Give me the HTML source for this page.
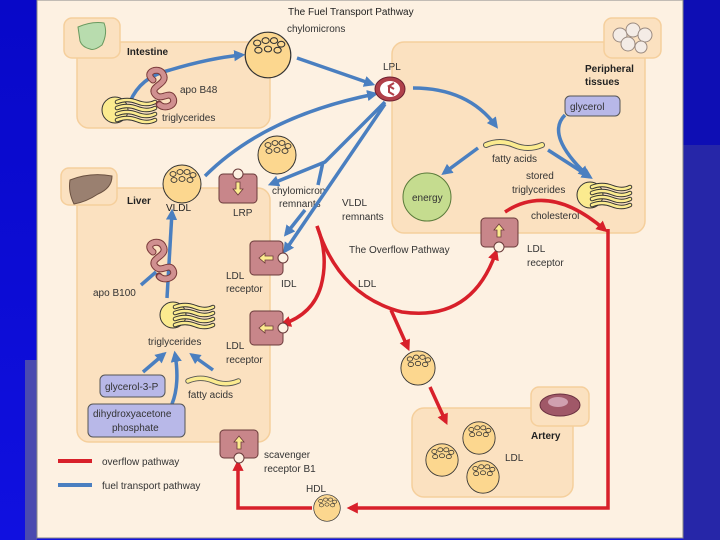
<!DOCTYPE html>
<html><head><meta charset="utf-8"><style>
html,body{margin:0;padding:0;width:720px;height:540px;overflow:hidden;background:#0a0ad0}
svg{display:block}
text{font-family:"Liberation Sans",sans-serif;font-size:10px;fill:#333}
.b{font-weight:bold;fill:#222}
</style></head><body>
<svg width="720" height="540" viewBox="0 0 720 540" xmlns="http://www.w3.org/2000/svg">
<defs>
<linearGradient id="lb" x1="0" y1="0" x2="0" y2="1"><stop offset="0" stop-color="#0808c8"/><stop offset="1" stop-color="#1010e0"/></linearGradient>
<marker id="ab" viewBox="0 0 10 10" refX="7" refY="5" markerWidth="3.2" markerHeight="3.2" orient="auto"><path d="M0,0L10,5L0,10z" fill="#4a7fc0"/></marker>
<marker id="ar" viewBox="0 0 10 10" refX="7" refY="5" markerWidth="3.2" markerHeight="3.2" orient="auto"><path d="M0,0L10,5L0,10z" fill="#d8202a"/></marker>
<g id="p"><circle r="19" fill="#fcd78f" stroke="#333" stroke-width="1"/>
<g fill="none" stroke="#333" stroke-width="0.9"><ellipse cx="-9" cy="-10" rx="3" ry="2.4"/><ellipse cx="-2" cy="-12" rx="3" ry="2.4"/><ellipse cx="5" cy="-12" rx="3" ry="2.4"/><ellipse cx="11" cy="-9" rx="3" ry="2.4"/><ellipse cx="-8" cy="-4" rx="3" ry="2.4"/><ellipse cx="0" cy="-5" rx="3" ry="2.4"/><ellipse cx="8" cy="-4" rx="3" ry="2.4"/></g></g>
<g id="tg"><ellipse cx="0" cy="0" rx="13" ry="13" fill="#fbeb8f" stroke="#333" stroke-width="1"/>
<g fill="none" stroke="#333" stroke-width="4.5" stroke-linecap="round"><path d="M2,-8 q10,-4 20,0 t18,0"/><path d="M2,-2 q10,-4 20,0 t18,0"/><path d="M2,4 q10,-4 20,0 t18,0"/><path d="M2,10 q10,-4 20,0 t18,0"/></g>
<g fill="none" stroke="#fbeb8f" stroke-width="2.6" stroke-linecap="round"><path d="M2,-8 q10,-4 20,0 t18,0"/><path d="M2,-2 q10,-4 20,0 t18,0"/><path d="M2,4 q10,-4 20,0 t18,0"/><path d="M2,10 q10,-4 20,0 t18,0"/></g></g>
<g id="apo" fill="none" stroke-linecap="round"><path d="M0,0 c-10,-8 6,-14 10,-6 c6,10 -14,12 -8,20 c6,8 14,-4 18,4 c4,8 -10,12 -14,6" stroke="#7a3a3a" stroke-width="7"/><path d="M0,0 c-10,-8 6,-14 10,-6 c6,10 -14,12 -8,20 c6,8 14,-4 18,4 c4,8 -10,12 -14,6" stroke="#d09090" stroke-width="5" stroke-dasharray="3 1.5"/></g>
<g id="fa"><path d="M0,0 q14,-6 28,0 t28,0" fill="none" stroke="#555" stroke-width="6" stroke-linecap="round"/><path d="M0,0 q14,-6 28,0 t28,0" fill="none" stroke="#fbeb8f" stroke-width="4" stroke-linecap="round"/></g>
</defs>
<rect width="720" height="540" fill="url(#lb)"/>
<rect x="25" y="360" width="12" height="180" fill="#4a4ab0"/>
<rect x="683" y="0" width="37" height="145" fill="#0e0eb4"/>
<rect x="683" y="145" width="37" height="395" fill="#2626a8"/>
<rect x="37" y="0" width="646" height="538" fill="#fdf1e2" stroke="#888" stroke-width="1"/>

<!-- boxes -->
<g fill="#fbe1c0" stroke="#f5cf9c" stroke-width="1.5">
<rect x="77" y="42" width="193" height="86" rx="12"/>
<rect x="77" y="188" width="193" height="254" rx="12"/>
<rect x="392" y="42" width="253" height="191" rx="12"/>
<rect x="412" y="408" width="161" height="89" rx="12"/>
<rect x="64" y="18" width="56" height="40" rx="8"/>
<rect x="61" y="168" width="56" height="37" rx="8"/>
<rect x="604" y="18" width="57" height="40" rx="8"/>
<rect x="531" y="387" width="58" height="39" rx="8"/>
</g>
<!-- icons -->
<path d="M78,27 q14,-6 26,-4 q4,10 -2,22 q-8,6 -12,4 q-8,-2 -10,-8z" fill="#b8dcae" stroke="#6a9a60"/>
<path d="M70,180 q20,-8 42,-4 q0,12 -14,18 q-12,8 -24,10 q-6,-12 -4,-24z" fill="#9a8070" stroke="#6a5040"/>
<g fill="#f4ece6" stroke="#9a8a80"><circle cx="620" cy="35" r="7"/><circle cx="633" cy="30" r="7"/><circle cx="645" cy="35" r="7"/><circle cx="628" cy="44" r="7"/><circle cx="641" cy="47" r="6"/></g>
<ellipse cx="560" cy="405" rx="20" ry="11" fill="#a05868" stroke="#6a3040"/><ellipse cx="558" cy="402" rx="10" ry="5" fill="#d0a0b0"/>

<!-- text -->
<text x="288" y="15" class="b" style="font-weight:normal">The Fuel Transport Pathway</text>
<text x="287" y="32">chylomicrons</text>
<text x="127" y="55" class="b">Intestine</text>
<text x="180" y="93">apo B48</text>
<text x="162" y="121">triglycerides</text>
<text x="127" y="204" class="b">Liver</text>
<text x="166" y="211" class="b" style="font-weight:normal">VLDL</text>
<text x="233" y="216">LRP</text>
<text x="272" y="194">chylomicron</text>
<text x="279" y="207">remnants</text>
<text x="342" y="206">VLDL</text>
<text x="342" y="220">remnants</text>
<text x="383" y="70">LPL</text>
<text x="585" y="72" class="b">Peripheral</text>
<text x="585" y="85" class="b">tissues</text>
<text x="492" y="162">fatty acids</text>
<text x="526" y="179">stored</text>
<text x="512" y="193">triglycerides</text>
<text x="531" y="219">cholesterol</text>
<text x="349" y="253">The Overflow Pathway</text>
<text x="527" y="252">LDL</text>
<text x="527" y="266">receptor</text>
<text x="226" y="279">LDL</text>
<text x="226" y="292">receptor</text>
<text x="281" y="287">IDL</text>
<text x="358" y="287">LDL</text>
<text x="93" y="296">apo B100</text>
<text x="148" y="345">triglycerides</text>
<text x="226" y="349">LDL</text>
<text x="226" y="363">receptor</text>
<text x="188" y="398">fatty acids</text>
<text x="264" y="458">scavenger</text>
<text x="264" y="472">receptor B1</text>
<text x="306" y="492">HDL</text>
<text x="531" y="439" class="b">Artery</text>
<text x="505" y="461">LDL</text>
<text x="102" y="465">overflow pathway</text>
<text x="102" y="489">fuel transport pathway</text>

<!-- legend -->
<line x1="58" y1="461" x2="92" y2="461" stroke="#d8202a" stroke-width="4"/>
<line x1="58" y1="485" x2="92" y2="485" stroke="#4a7fc0" stroke-width="4"/>

<!-- blue arrows -->
<g fill="none" stroke="#4a7fc0" stroke-width="3.5" marker-end="url(#ab)">
<path d="M130,102 q10,-25 40,-32 q40,-12 72,-15"/>
<path d="M297,58 L372,84"/>
<path d="M205,176 q60,-60 170,-82"/>
<path d="M413,88 q55,0 83,38"/>
<path d="M385,102 L325,162 L271,184"/>
<path d="M323,162 L318,185" marker-end="none"/>
<path d="M305,210 L286,234"/>
<path d="M385,104 L285,251"/>
<path d="M478,148 L444,173"/>
<path d="M548,150 L590,177"/>
<path d="M565,115 q-20,20 22,60"/>
<path d="M167,298 L172,212"/>
<path d="M141,285 L156,272" marker-end="none"/>
<path d="M143,372 L164,354"/>
<path d="M172,404 q8,-20 3,-50"/>
<path d="M213,370 L192,355"/>
</g>
<!-- red arrows -->
<g fill="none" stroke="#d8202a" stroke-width="3.5" marker-end="url(#ar)">
<path d="M317,226 q12,30 4,60 q-8,28 -38,38"/>
<path d="M317,226 q22,70 85,86 q70,10 94,-60"/>
<path d="M391,310 L408,348"/>
<path d="M430,387 L446,422"/>
<path d="M505,212 q45,-30 100,18" />
<path d="M608,229 L608,508 L350,508"/>
<path d="M312,508 L238,508 L238,463"/>
</g>

<!-- particles -->
<use href="#p" x="268" y="55" transform="translate(268 55) scale(1.2) translate(-268 -55)"/>
<use href="#p" x="277" y="155"/>
<use href="#p" x="182" y="184"/>
<use href="#p" x="418" y="368" transform="translate(418 368) scale(0.9) translate(-418 -368)"/>
<use href="#p" x="479" y="438" transform="translate(479 438) scale(0.85) translate(-479 -438)"/>
<use href="#p" x="442" y="460" transform="translate(442 460) scale(0.85) translate(-442 -460)"/>
<use href="#p" x="483" y="477" transform="translate(483 477) scale(0.85) translate(-483 -477)"/>
<use href="#p" x="327" y="508" transform="translate(327 508) scale(0.7) translate(-327 -508)"/>

<use href="#tg" x="115" y="110"/>
<use href="#tg" x="173" y="315"/>
<use href="#tg" x="590" y="195"/>
<use href="#apo" x="153" y="80"/>
<use href="#apo" x="153" y="252"/>
<use href="#fa" x="486" y="145"/>
<use href="#fa" x="188" y="381" transform="translate(188 381) scale(0.9) translate(-188 -381)"/>

<!-- energy / LPL -->
<circle cx="427" cy="197" r="24" fill="#c5dc8f" stroke="#5a7a3a"/>
<text x="412" y="201">energy</text>
<ellipse cx="390" cy="89" rx="15" ry="12" fill="#b0404a" stroke="#6a2030"/>
<ellipse cx="390" cy="89" rx="10" ry="8" fill="#fff"/>
<path d="M394,83 l-5,3 l5,3 M389,86 l0,6 l5,3" stroke="#b0404a" stroke-width="2" fill="none"/>

<!-- lavender boxes -->
<g fill="#b8b8e8" stroke="#555" stroke-width="1"><rect x="565" y="96" width="55" height="20" rx="5"/><rect x="100" y="375" width="65" height="22" rx="5"/><rect x="88" y="404" width="97" height="33" rx="5"/></g>
<text x="570" y="110">glycerol</text>
<text x="105" y="390">glycerol-3-P</text>
<text x="93" y="417">dihydroxyacetone</text>
<text x="112" y="431">phosphate</text>

<!-- receptors -->
<g fill="#c8868a" stroke="#6a3a3a" stroke-width="1">
<rect x="219" y="174" width="38" height="29" rx="4"/>
<rect x="250" y="241" width="33" height="34" rx="4"/>
<rect x="250" y="311" width="33" height="34" rx="4"/>
<rect x="220" y="430" width="38" height="28" rx="4"/>
<rect x="481" y="218" width="37" height="29" rx="4"/>
</g>
<g fill="#fdf1e2" stroke="#6a3a3a"><circle cx="238" cy="174" r="5"/><circle cx="283" cy="258" r="5"/><circle cx="283" cy="328" r="5"/><circle cx="239" cy="458" r="5"/><circle cx="499" cy="247" r="5"/></g>
<g fill="#fbeb8f" stroke="#6a3a3a" stroke-width="0.8">
<path d="M236,182 h4 v7 h3 l-5,6 l-5,-6 h3z"/>
<path d="M273,256 h-8 v-3 l-6,5 l6,5 v-3 h8z"/>
<path d="M273,326 h-8 v-3 l-6,5 l6,5 v-3 h8z"/>
<path d="M237,449 h4 v-7 h3 l-5,-6 l-5,6 h3z"/>
<path d="M497,237 h4 v-7 h3 l-5,-6 l-5,6 h3z"/>
</g>
</svg>
</body></html>
